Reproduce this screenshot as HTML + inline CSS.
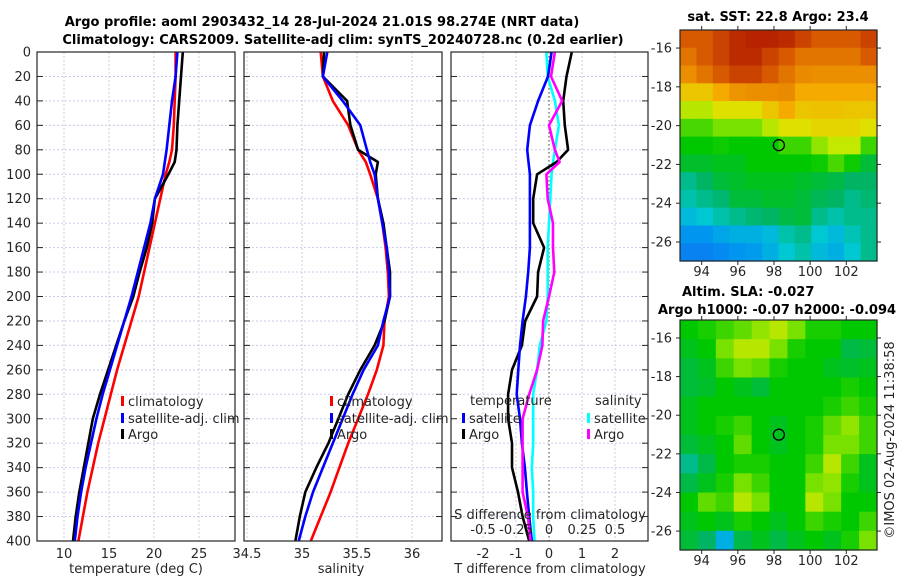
<!DOCTYPE html>
<html><head><meta charset="utf-8">
<style>
html,body{margin:0;padding:0;background:#fff;}
svg{display:block;font-family:"DejaVu Sans","Liberation Sans",sans-serif;}
text{fill:#262626;font-size:13px;}
.b{font-weight:bold;fill:#000;}
</style></head>
<body>
<svg id="fig" width="900" height="580" viewBox="0 0 900 580" xmlns="http://www.w3.org/2000/svg">
<text class="b" x="322" y="26" text-anchor="middle">Argo profile: aoml 2903432_14 28-Jul-2024 21.01S 98.274E (NRT data)</text>
<text class="b" x="343" y="44" text-anchor="middle">Climatology: CARS2009. Satellite-adj clim: synTS_20240728.nc (0.2d earlier)</text>
<g id="grids"></g>
<g id="lines"></g>
<g id="frames"></g>
<g id="maps"></g>
</svg>
<script>
// ---------- data ----------
const depthTicks = [0,20,40,60,80,100,120,140,160,180,200,220,240,260,280,300,320,340,360,380,400];
const tTicks = [10,15,20,25];
const sTicks = [34.5,35,35.5,36];
const dtTicks = [-2,-1,0,1,2];
const dsTicks = [-0.5,-0.25,0,0.25,0.5];
const dsTickLabels = ["-0.5","-0.25","0","0.25","0.5"];

const tDepth = [0,20,40,60,80,90,100,120,140,160,180,200,220,240,260,280,300,320,340,360,380,400];
const tClim = [22.4,22.4,22.3,22.2,22.0,21.7,21.3,20.7,20.1,19.5,18.9,18.3,17.5,16.7,15.9,15.2,14.5,13.8,13.2,12.6,12.1,11.6];
const tSat  = [22.6,22.4,22.0,21.7,21.4,21.2,21.0,20.1,19.6,18.9,18.2,17.5,16.7,15.9,15.1,14.3,13.6,13.0,12.4,11.9,11.5,11.2];
const tArgo = [23.2,23.0,22.8,22.6,22.5,22.3,21.6,20.1,19.8,19.2,18.4,17.7,16.7,15.8,14.9,14.0,13.2,12.7,12.2,11.7,11.3,11.0];

const sClim = [35.17,35.19,35.28,35.42,35.51,35.58,35.62,35.69,35.73,35.76,35.78,35.79,35.75,35.74,35.68,35.60,35.51,35.42,35.34,35.26,35.17,35.08];
const sSat  = [35.23,35.19,35.37,35.53,35.59,35.62,35.66,35.69,35.73,35.77,35.79,35.80,35.74,35.69,35.56,35.46,35.37,35.28,35.19,35.10,35.03,34.97];
const sArgo = [35.20,35.19,35.41,35.44,35.51,35.69,35.67,35.69,35.74,35.77,35.80,35.80,35.75,35.66,35.53,35.42,35.33,35.24,35.13,35.03,34.98,34.94];

const dtSat  = [0.08,-0.03,-0.33,-0.58,-0.66,-0.62,-0.58,-0.58,-0.58,-0.58,-0.63,-0.70,-0.80,-0.88,-0.93,-0.98,-0.88,-0.82,-0.73,-0.67,-0.60,-0.52];
const dtArgo = [0.69,0.53,0.43,0.48,0.58,0.23,-0.36,-0.48,-0.48,-0.15,-0.33,-0.36,-0.72,-0.82,-1.12,-1.24,-1.24,-1.12,-1.12,-0.94,-0.80,-0.60];
const dsSat  = [-0.02,-0.01,0.045,0.075,0.045,0.03,0.02,0.01,0.0,-0.01,-0.01,-0.01,-0.02,-0.07,-0.09,-0.12,-0.12,-0.12,-0.13,-0.12,-0.12,-0.11];
const dsArgo = [0.045,0.015,0.10,0.0,0.045,0.08,-0.02,-0.01,0.03,0.03,0.04,0.0,-0.045,-0.05,-0.09,-0.15,-0.20,-0.20,-0.20,-0.20,-0.16,-0.14];

const lonTicks = [94,96,98,100,102];
const latTicks = [-16,-18,-20,-22,-24,-26];
const argoLon = 98.27, argoLat = -21.01;
const sstGrid = [
[0.85,0.85,0.9,0.95,0.97,0.97,0.95,0.9,0.85,0.85,0.85,0.9],
[0.8,0.85,0.9,0.95,0.95,0.9,0.85,0.8,0.8,0.8,0.8,0.85],
[0.75,0.8,0.85,0.9,0.9,0.85,0.8,0.76,0.75,0.75,0.75,0.75],
[0.65,0.65,0.7,0.74,0.75,0.75,0.76,0.7,0.7,0.7,0.7,0.7],
[0.55,0.55,0.6,0.6,0.6,0.65,0.7,0.65,0.66,0.66,0.65,0.65],
[0.46,0.46,0.5,0.5,0.5,0.55,0.6,0.6,0.62,0.62,0.62,0.6],
[0.4,0.4,0.41,0.4,0.4,0.4,0.45,0.45,0.52,0.56,0.56,0.45],
[0.37,0.37,0.38,0.38,0.4,0.4,0.4,0.4,0.41,0.46,0.41,0.36],
[0.3,0.33,0.36,0.37,0.38,0.38,0.38,0.37,0.36,0.35,0.33,0.33],
[0.28,0.3,0.32,0.36,0.36,0.37,0.37,0.36,0.34,0.33,0.3,0.32],
[0.22,0.25,0.28,0.3,0.32,0.33,0.35,0.36,0.3,0.28,0.3,0.3],
[0.15,0.15,0.18,0.2,0.2,0.22,0.28,0.3,0.25,0.22,0.27,0.3],
[0.1,0.1,0.12,0.15,0.16,0.2,0.25,0.28,0.22,0.2,0.25,0.3]];
const slaGrid = [
[0.4,0.42,0.45,0.48,0.52,0.55,0.5,0.42,0.42,0.4,0.4],
[0.38,0.4,0.5,0.55,0.55,0.5,0.42,0.4,0.4,0.35,0.36],
[0.36,0.38,0.45,0.5,0.48,0.42,0.4,0.4,0.38,0.37,0.38],
[0.36,0.37,0.4,0.38,0.36,0.4,0.4,0.4,0.4,0.42,0.4],
[0.38,0.4,0.4,0.4,0.4,0.4,0.4,0.4,0.42,0.45,0.42],
[0.38,0.4,0.42,0.45,0.4,0.38,0.4,0.42,0.48,0.52,0.45],
[0.36,0.38,0.4,0.48,0.4,0.38,0.4,0.42,0.5,0.5,0.45],
[0.3,0.35,0.4,0.42,0.42,0.4,0.4,0.45,0.55,0.45,0.38],
[0.35,0.38,0.42,0.5,0.45,0.4,0.4,0.5,0.52,0.42,0.38],
[0.4,0.48,0.45,0.55,0.5,0.4,0.4,0.55,0.5,0.4,0.4],
[0.38,0.4,0.38,0.42,0.4,0.38,0.4,0.45,0.42,0.4,0.45],
[0.36,0.33,0.2,0.35,0.38,0.35,0.38,0.4,0.38,0.42,0.5]];

// ---------- helpers ----------
const NS="http://www.w3.org/2000/svg";
const G=id=>document.getElementById(id);
function el(tag,attrs,parent){const e=document.createElementNS(NS,tag);for(const k in attrs)e.setAttribute(k,attrs[k]);parent.appendChild(e);return e;}
function txt(s,x,y,anchor,parent,cls){const t=el('text',{x:x,y:y,'text-anchor':anchor||'start'},parent);if(cls)t.setAttribute('class',cls);t.textContent=s;return t;}

const TOP=52,BOT=541;
const yD=d=>TOP+(d/400)*(BOT-TOP);
const panels=[
 {x0:37,x1:235,min:7,max:29},
 {x0:244,x1:442,min:34.473,max:36.273},
 {x0:451,x1:648,min:-2.97,max:3.0}];
const sx=(p,v)=>p.x0+(v-p.min)/(p.max-p.min)*(p.x1-p.x0);
const dsx=v=>sx(panels[2],v*4);

const grids=G('grids'),lines=G('lines'),frames=G('frames');
panels.forEach((p,i)=>{
  depthTicks.forEach(d=>{
    const l=el('line',{x1:p.x0,x2:p.x1,y1:yD(d),y2:yD(d),stroke:'#c6cdea','stroke-width':1,'stroke-dasharray':'2,2'},grids);
    
    
  });
  const ticks=i==0?tTicks:i==1?sTicks:dtTicks;
  ticks.forEach(v=>{
    const x=sx(p,v);
    const l=el('line',{x1:x,x2:x,y1:TOP,y2:BOT,stroke:'#d4c8e4','stroke-width':1,'stroke-dasharray':'2,2'},grids);
    
    
  });
});
{const x=sx(panels[2],0);const l=el('line',{x1:x,x2:x,y1:TOP,y2:BOT,stroke:'#6b6b40','stroke-width':1.2,'stroke-dasharray':'1.5,2.5'},grids);

}

function poly(vals,fx,color,name){
  const pts=vals.map((v,i)=>fx(v).toFixed(1)+','+yD(tDepth[i]).toFixed(1)).join(' ');
  const l=el('polyline',{points:pts,fill:'none',stroke:color,'stroke-width':2.6,'stroke-linejoin':'round'},lines);
  
  
}
poly(tClim,v=>sx(panels[0],v),'#ff0000','temp-climatology-line');
poly(tArgo,v=>sx(panels[0],v),'#000','temp-argo-line');
poly(tSat,v=>sx(panels[0],v),'#0000ff','temp-satellite-line');
poly(sClim,v=>sx(panels[1],v),'#ff0000','sal-climatology-line');
poly(sArgo,v=>sx(panels[1],v),'#000','sal-argo-line');
poly(sSat,v=>sx(panels[1],v),'#0000ff','sal-satellite-line');
poly(dsSat,dsx,'#00ffff','sdiff-satellite-line');
poly(dtArgo,v=>sx(panels[2],v),'#000','tdiff-argo-line');
poly(dtSat,v=>sx(panels[2],v),'#0000ff','tdiff-satellite-line');
poly(dsArgo,dsx,'#ff00ff','sdiff-argo-line');

panels.forEach((p,i)=>{
  const r=el('rect',{x:p.x0,y:TOP,width:p.x1-p.x0,height:BOT-TOP,fill:'none',stroke:'#262626','stroke-width':1.2},frames);
  
  
  depthTicks.forEach(d=>{
    el('line',{x1:p.x0,x2:p.x0+6,y1:yD(d),y2:yD(d),stroke:'#262626'},frames);
    el('line',{x1:p.x1,x2:p.x1-6,y1:yD(d),y2:yD(d),stroke:'#262626'},frames);
  });
});
depthTicks.forEach(d=>{const t=txt(String(d),31,yD(d)+4.5,'end',frames);
  
  });
tTicks.forEach(v=>{const t=txt(String(v),sx(panels[0],v),558,'middle',frames);
  
  });
sTicks.forEach(v=>{const t=txt(String(v),sx(panels[1],v),558,'middle',frames);
  
  });
dtTicks.forEach(v=>{const t=txt(String(v),sx(panels[2],v),558,'middle',frames);
  
  });
dsTicks.forEach((v,i)=>{const t=txt(dsTickLabels[i],dsx(v),534,'middle',frames);
  
  });
{let t=txt('temperature (deg C)',136,573,'middle',frames);
t=txt('salinity',341,573,'middle',frames);
t=txt('T difference from climatology',550,573,'middle',frames);
t=txt('S difference from climatology',550,519,'middle',frames);}

function leg(x,y,color,label,name){
  const g=el('g',{},frames);
  
  
  el('rect',{x:x,y:y-5,width:3,height:10,fill:color},g);
  txt(label,x+7,y+5,'start',g);
}
leg(121,401,'#ff0000','climatology','legend-entry-climatology');
leg(121,418,'#0000ff','satellite-adj. clim','legend-entry-satellite');
leg(121,434,'#000','Argo','legend-entry-argo');
leg(330,401,'#ff0000','climatology','legend-entry-climatology-sal');
leg(330,418,'#0000ff','satellite-adj. clim','legend-entry-satellite-sal');
leg(330,434,'#000','Argo','legend-entry-argo-sal');
{let t=txt('temperature',470,405,'start',frames);
t=txt('salinity',595,405,'start',frames);}
leg(462,418,'#0000ff','satellite','legend-entry-tdiff-satellite');
leg(462,434,'#000','Argo','legend-entry-tdiff-argo');
leg(587,418,'#00ffff','satellite','legend-entry-sdiff-satellite');
leg(587,434,'#ff00ff','Argo','legend-entry-sdiff-argo');

// ---------- maps ----------
const stops=[[0,[20,90,240]],[0.15,[0,150,240]],[0.25,[0,200,210]],[0.33,[0,180,100]],[0.4,[0,200,0]],[0.5,[120,225,0]],[0.58,[220,235,0]],[0.7,[245,170,0]],[0.85,[215,90,0]],[1,[175,20,0]]];
function cmap(v){for(let i=1;i<stops.length;i++){if(v<=stops[i][0]){const a=stops[i-1],b=stops[i];const f=(v-a[0])/(b[0]-a[0]);
 return 'rgb('+a[1].map((c,k)=>Math.round(c+(b[1][k]-c)*f)).join(',')+')';}}return 'rgb(175,20,0)';}
const maps=G('maps');
function drawMap(top,bot,grid,name){
  const x0=680,x1=877,lonMin=92.8,lonMax=103.7,latTop=-15.07,latBot=-26.98;
  const mx=lon=>x0+(lon-lonMin)/(lonMax-lonMin)*(x1-x0);
  const my=lat=>top+(latTop-lat)/(latTop-latBot)*(bot-top);
  const g=el('g',{},maps);
  
  
  const rows=grid.length,cols=grid[0].length;
  const cw=(x1-x0)/cols,ch=(bot-top)/rows;
  grid.forEach((row,r)=>row.forEach((v,c)=>{
    const cell=el('rect',{x:(x0+c*cw).toFixed(2),y:(top+r*ch).toFixed(2),width:(cw+0.6).toFixed(2),height:(ch+0.6).toFixed(2),fill:cmap(v)},g);
    
    
  }));
  el('rect',{x:x0,y:top,width:x1-x0,height:bot-top,fill:'none',stroke:'#262626','stroke-width':1.2},g);
  latTicks.forEach(l=>{const y=my(l);el('line',{x1:x0,x2:x0-4,y1:y,y2:y,stroke:'#262626'},g);el('line',{x1:x1,x2:x1+4,y1:y,y2:y,stroke:'#262626'},g);
    const t=txt(String(l),672,y+4.5,'end',g);});
  lonTicks.forEach(l=>{const x=mx(l);el('line',{x1:x,x2:x,y1:bot,y2:bot+4,stroke:'#262626'},g);el('line',{x1:x,x2:x,y1:top,y2:top-4,stroke:'#262626'},g);
    const t=txt(String(l),x,bot+15,'middle',g);});
  const c=el('circle',{cx:mx(argoLon),cy:my(argoLat),r:5.5,fill:'none',stroke:'#000','stroke-width':1.3},g);
  
  
}
drawMap(30,261,sstGrid,'sst-map');
drawMap(320,550,slaGrid,'sla-map');
{let t=txt('sat. SST: 22.8 Argo: 23.4',778,21,'middle',maps,'b');
t=txt('Altim. SLA: -0.027',682,296,'start',maps,'b');
t=txt('Argo h1000: -0.07 h2000: -0.094',658,314,'start',maps,'b');
t=txt('©IMOS 02-Aug-2024 11:38:58',0,0,'middle',maps);t.setAttribute('transform','translate(894,440) rotate(-90)');}
</script>
</body></html>
